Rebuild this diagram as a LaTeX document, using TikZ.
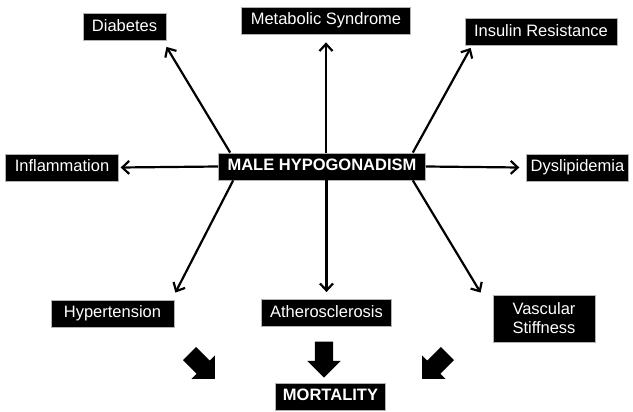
\documentclass[tikz,border=0pt]{standalone}
\usepackage{fontspec}
\setmainfont{Liberation Sans}
\usetikzlibrary{arrows.meta,shapes.arrows}

\begin{document}
\begin{tikzpicture}[x=1pt,y=-1pt]
    % Use a sans-serif font at the figure size
    \tikzstyle{every node}=[font=\fontsize{16.5}{19}\selectfont]
    \tikzstyle{box}=[fill=black, draw=gray!60, line width=0.8pt, text=white, minimum height=27pt, inner xsep=9pt, inner ysep=0pt, text height=12pt, text depth=3.5pt]
    \tikzstyle{hubbox}=[box, font=\fontsize{16.5}{19}\selectfont\bfseries]
    \tikzstyle{link}=[-{Straight Barb[length=7pt,width=13pt]}, line width=2.2pt]
    \tikzstyle{fatarrow}=[single arrow, fill=black, minimum height=36pt, inner xsep=0pt, inner ysep=9pt, single arrow head extend=7.5pt]

    \useasboundingbox (0,0) rectangle (633,412);

    % The centre box
    \node[hubbox] (hub) at (322,166.5) {MALE HYPOGONADISM};

    % The boxes round it
    \node[box] (diab) at (124.5,27) {Diabetes};
    \node[box] (met) at (326,20.5) {Metabolic Syndrome};
    \node[box] (ins) at (541,32) {Insulin Resistance};
    \node[box] (infl) at (62,167.5) {Inflammation};
    \node[box, inner xsep=4pt] (dys) at (577.5,167.5) {Dyslipidemia};
    \node[box, minimum width=123pt] (hyp) at (112.5,313.5) {Hypertension};
    \node[box] (ath) at (326.5,313) {Atherosclerosis};
    \node[box, align=center, text height={}, text depth={}, minimum width=102pt, minimum height=47pt] (vasc) at (544,318.5) {Vascular\\Stiffness};

    % The outcome
    \node[hubbox, inner xsep=7.5pt] (mort) at (330.5,396.5) {MORTALITY};

    % Draw the arrows out of the centre box
    \draw[link] ([xshift=12pt]hub.north west) -- ([yshift=-6pt]diab.south east);
    \draw[link] (hub.north -| met.south) -- ([yshift=-8pt]met.south);
    \draw[link] ([xshift=-13pt]hub.north east) -- ([xshift=6pt,yshift=-2pt]ins.south west);
    \draw[link] (hub.west) -- ([xshift=2pt]infl.east);
    \draw[link] (hub.east) -- ([xshift=-7pt]dys.west);
    \draw[link] ([xshift=15pt]hub.south west) -- ([xshift=1pt,yshift=7pt]hyp.north east);
    \draw[link] (hub.south -| ath.north) -- ([yshift=7pt]ath.north);
    \draw[link] ([xshift=-13pt]hub.south east) -- ([xshift=-12pt,yshift=2pt]vasc.north west);

    % Draw the thick arrows into the outcome
    \node[fatarrow, rotate=-45] (fatL) at (199,363) {};
    \node[fatarrow, rotate=-90] (fatM) at (324,355) {};
    \node[fatarrow, rotate=-135] (fatR) at (438,363) {};

\end{tikzpicture}
\end{document}
